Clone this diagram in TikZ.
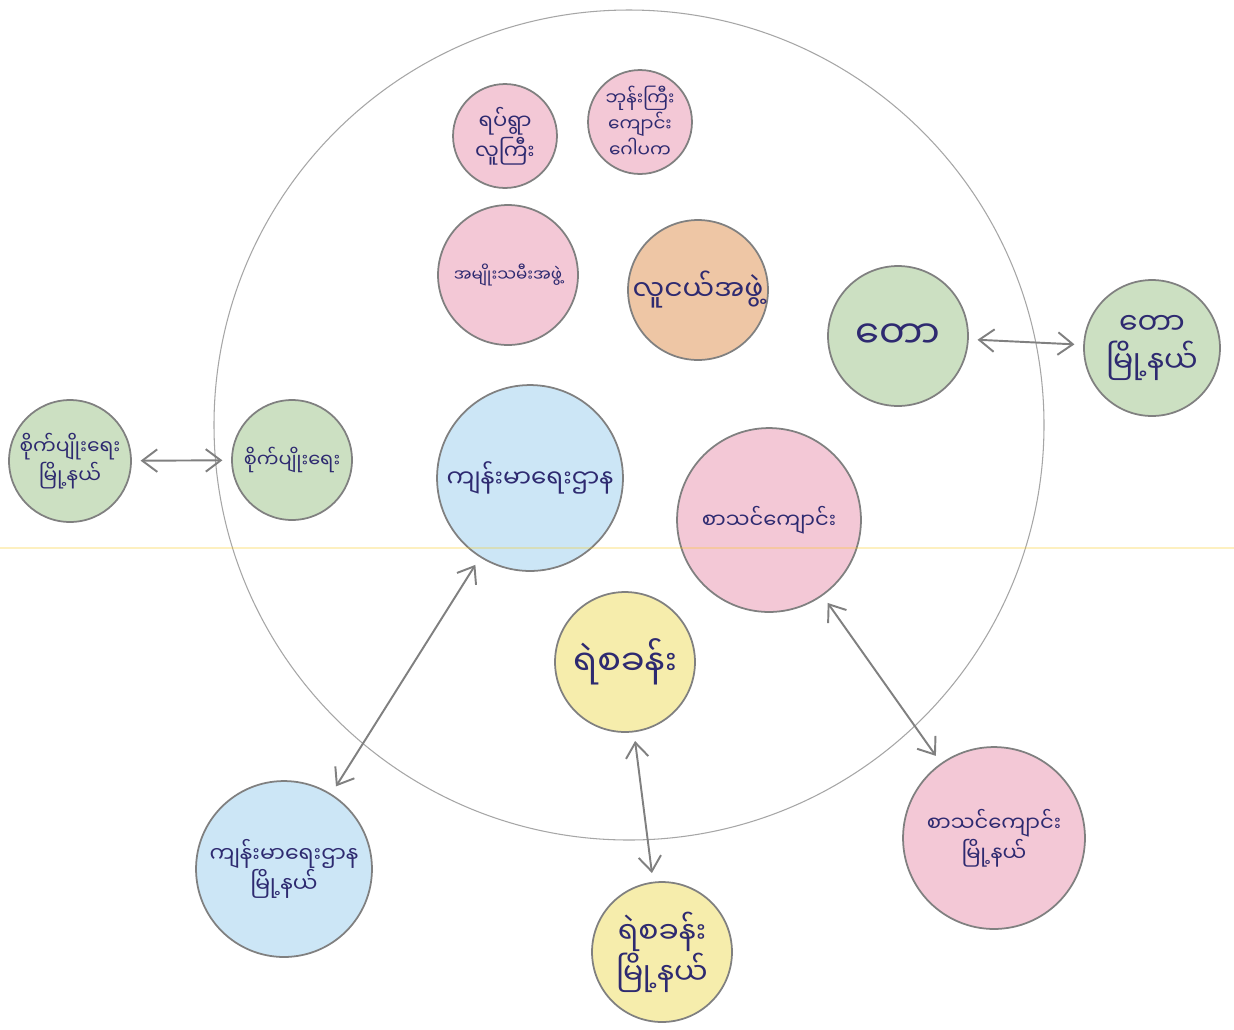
\documentclass[tikz,border=0pt]{standalone}
\usepackage{fontspec}
\newfontfamily\mmfont[Script=Myanmar]{Noto Sans Myanmar UI}
\usepackage{tikz}
\usetikzlibrary{arrows.meta}

\definecolor{ink}{RGB}{46,42,112}
\definecolor{rim}{RGB}{128,128,128}
\definecolor{pinkfill}{RGB}{243,200,214}
\definecolor{orangefill}{RGB}{238,198,165}
\definecolor{greenfill}{RGB}{204,224,194}
\definecolor{bluefill}{RGB}{204,230,246}
\definecolor{yellowfill}{RGB}{246,237,172}

\begin{document}
\begin{tikzpicture}[
    x=0.02cm, y=-0.02cm,
    every node/.style={circle, draw=rim, line width=1pt, inner sep=0pt, align=center, text=ink, font=\mmfont\fontsize{11}{15}\selectfont},
    bub/.style={minimum size=#1*0.04cm},
    txt/.style={font=\mmfont\fontsize{#1pt}{\dimexpr #1pt*13/10\relax}\selectfont},
    arrow/.style={{Straight Barb[length=3mm,width=4.5mm]}-{Straight Barb[length=3mm,width=4.5mm]}, line width=1.1pt, draw=rim, shorten <=5pt, shorten >=5pt}
    ]

\useasboundingbox[fill=white] (0,0) rectangle (1234,1029);

% the village
\draw[rim!70, line width=0.6pt] (629,425) circle[radius=415];

% Nodes
\node[bub=52, fill=pinkfill, txt=12] (elders) at (505,136) {ရပ်ရွာ\\လူကြီး};
\node[bub=52, fill=pinkfill, txt=10.5] (trustee) at (640,122) {ဘုန်းကြီး\\ကျောင်း\\ဂေါပက};
\node[bub=70, fill=pinkfill, txt=9.5] (women) at (508,275) {အမျိုးသမီးအဖွဲ့};
\node[bub=70, fill=orangefill, txt=16] (youth) at (698,290) {လူငယ်အဖွဲ့};
\node[bub=70, fill=greenfill, txt=22] (forest) at (898,336) {တော};
\node[bub=60, fill=greenfill, txt=11] (farm) at (292,460) {စိုက်ပျိုးရေး};
\node[bub=93, fill=bluefill, txt=14] (health) at (530,478) {ကျန်းမာရေးဌာန};
\node[bub=92, fill=pinkfill, txt=12] (school) at (769,520) {စာသင်ကျောင်း};
\node[bub=70, fill=yellowfill, txt=20] (police) at (625,662) {ရဲစခန်း};

% Outside the village
\node[bub=68, fill=greenfill, txt=17] (forest_ts) at (1152,348) {တော\\မြို့နယ်};
\node[bub=61, fill=greenfill, txt=11.5] (farm_ts) at (70,461) {စိုက်ပျိုးရေး\\မြို့နယ်};
\node[bub=88, fill=bluefill, txt=12.5] (health_ts) at (284,869) {ကျန်းမာရေးဌာန\\မြို့နယ်};
\node[bub=70, fill=yellowfill, txt=17] (police_ts) at (662,952) {ရဲစခန်း\\မြို့နယ်};
\node[bub=91, fill=pinkfill, txt=12] (school_ts) at (994,838) {စာသင်ကျောင်း\\မြို့နယ်};

% Arrows
\draw[arrow] (farm_ts) -- (farm);
\draw[arrow] (forest) -- (forest_ts);
\draw[arrow] (health) -- (health_ts);
\draw[arrow] (police) -- (police_ts);
\draw[arrow] (school) -- (school_ts);

% faint scan line
\draw[yellow!60!orange, opacity=0.25, line width=0.6pt] (0,548) -- (1234,548);

\end{tikzpicture}
\end{document}
